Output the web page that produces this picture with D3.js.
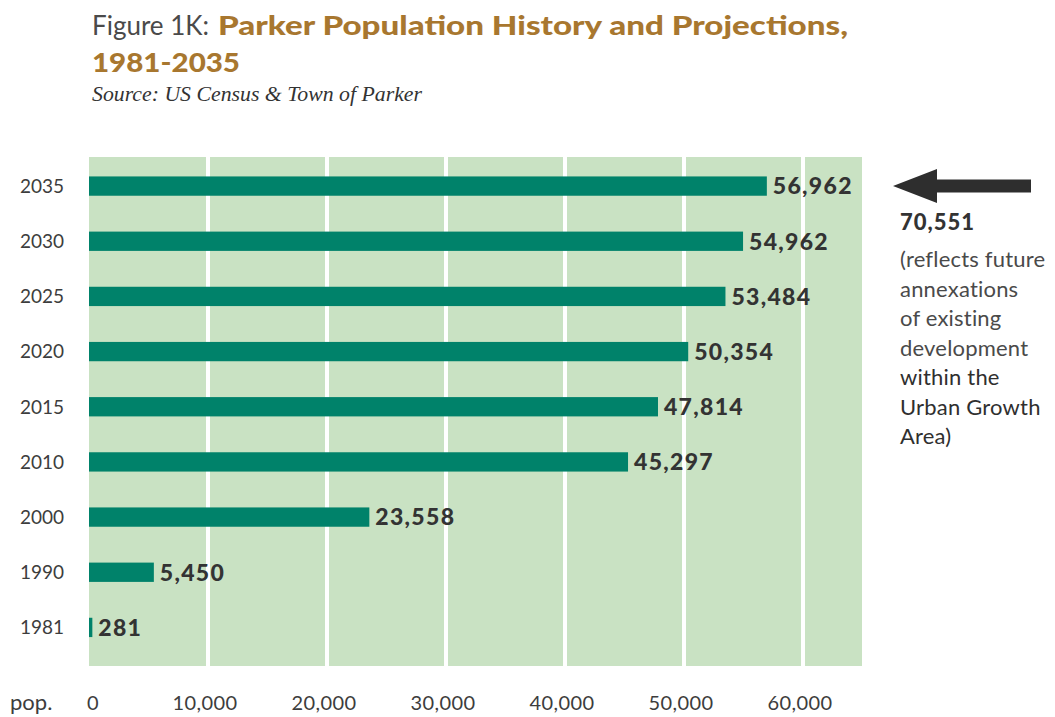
<!DOCTYPE html>
<html>
<head>
<meta charset="utf-8">
<script src="https://cdn.jsdelivr.net/npm/d3@7"></script>
<style>
  html, body { margin: 0; padding: 0; background: #fff; }
  svg { display: block; }
  .sans { font-family: "Lato", "Open Sans", sans-serif; }
</style>
</head>
<body>
<svg id="chart" width="1055" height="717"></svg>
<script>
// Population by year (historic census counts and projections)
const years = ["2035", "2030", "2025", "2020", "2015", "2010", "2000", "1990", "1981"];
const population = [56962, 54962, 53484, 50354, 47814, 45297, 23558, 5450, 281];
const tickValues = [0, 10000, 20000, 30000, 40000, 50000, 60000];
const noteValue = 70551;
const noteLines = ["(reflects future", "annexations", "of existing", "development", "within the", "Urban Growth", "Area)"];

const svg = d3.select("#chart");

const colors = {
  panel: "#c9e2c3",
  bar: "#00826a",
  grid: "#ffffff",
  text: "#3d3d3d",
  title: "#a8772f",
  arrow: "#2e2e2e"
};

const plot = { left: 89, right: 862, top: 157, bottom: 666 };

const x = d3.scaleLinear().domain([0, 65000]).range([plot.left, 862.5]);
const y = d3.scaleBand().domain(years).range([158.5, 655]).paddingInner(0.65).paddingOuter(0.325);

// Title block
svg.append("text").attr("class", "sans").attr("x", 92).attr("y", 35)
  .attr("font-size", 26).attr("fill", "#4a4a4a").text("Figure 1K:");
svg.append("text").attr("class", "sans").attr("x", 218).attr("y", 35)
  .attr("font-size", 26).attr("font-weight", 900).attr("fill", colors.title)
  .attr("textLength", 630).attr("lengthAdjust", "spacingAndGlyphs")
  .text("Parker Population History and Projections,");
svg.append("text").attr("class", "sans").attr("x", 92).attr("y", 72)
  .attr("font-size", 26).attr("font-weight", 900).attr("fill", colors.title)
  .attr("textLength", 148).attr("lengthAdjust", "spacingAndGlyphs").text("1981-2035");
svg.append("text").attr("x", 92).attr("y", 101)
  .attr("font-family", "'Liberation Serif', 'DejaVu Serif', serif").attr("font-style", "italic")
  .attr("font-size", 21).attr("fill", "#333")
  .attr("textLength", 330).attr("lengthAdjust", "spacingAndGlyphs")
  .text("Source: US Census & Town of Parker");

// Panel background
svg.append("rect")
  .attr("x", plot.left).attr("y", plot.top)
  .attr("width", plot.right - plot.left).attr("height", plot.bottom - plot.top)
  .attr("fill", colors.panel);

// Vertical white gridlines
svg.append("g").selectAll("line")
  .data(tickValues.filter(d => d > 0))
  .join("line")
  .attr("x1", d => x(d)).attr("x2", d => x(d))
  .attr("y1", plot.top).attr("y2", plot.bottom)
  .attr("stroke", colors.grid).attr("stroke-width", 4);

// Bars
svg.append("g").selectAll("rect")
  .data(years)
  .join("rect")
  .attr("x", x(0))
  .attr("y", d => y(d))
  .attr("width", (d, i) => x(population[i]) - x(0))
  .attr("height", y.bandwidth())
  .attr("fill", colors.bar);

// Value labels
svg.append("g").selectAll("text")
  .data(years)
  .join("text")
  .attr("class", "sans")
  .attr("x", (d, i) => x(population[i]) + 6)
  .attr("y", d => y(d) + y.bandwidth() / 2)
  .attr("dy", "0.36em")
  .attr("font-size", 23).attr("font-weight", 900).attr("letter-spacing", 1.3)
  .attr("fill", "#333")
  .text((d, i) => d3.format(",")(population[i]));

// Year labels
svg.append("g").selectAll("text")
  .data(years)
  .join("text")
  .attr("class", "sans")
  .attr("x", 64)
  .attr("y", d => y(d) + y.bandwidth() / 2)
  .attr("dy", "0.36em")
  .attr("text-anchor", "end")
  .attr("font-size", 19)
  .attr("fill", colors.text)
  .text(d => d);

// Bottom axis labels
svg.append("g").selectAll("text")
  .data(tickValues)
  .join("text")
  .attr("class", "sans")
  .attr("x", d => d === 0 ? x(d) + 4 : x(d) - 3)
  .attr("y", 710)
  .attr("text-anchor", "middle")
  .attr("font-size", 20).attr("letter-spacing", 0.4)
  .attr("fill", colors.text)
  .text(d => d3.format(",")(d));
svg.append("text").attr("class", "sans").attr("x", 10).attr("y", 710)
  .attr("font-size", 22).attr("fill", colors.text).text("pop.");

// Arrow pointing back to the 2035 bar
const ay = y("2035") + y.bandwidth() / 2;
const arrow = d3.path();
arrow.moveTo(893, ay);
arrow.lineTo(937, ay - 17);
arrow.lineTo(937, ay - 6.5);
arrow.lineTo(1031, ay - 6.5);
arrow.lineTo(1031, ay + 6.5);
arrow.lineTo(937, ay + 6.5);
arrow.lineTo(937, ay + 17);
arrow.closePath();
svg.append("path").attr("d", arrow.toString()).attr("fill", colors.arrow);

// Annotation for the Urban Growth Area total
svg.append("text").attr("class", "sans").attr("x", 900).attr("y", 230)
  .attr("font-size", 22).attr("font-weight", 900).attr("letter-spacing", 1)
  .attr("fill", "#333").text(d3.format(",")(noteValue));
svg.append("g").selectAll("text")
  .data(noteLines)
  .join("text")
  .attr("class", "sans")
  .attr("x", 900)
  .attr("y", (d, i) => 267 + i * 29.5)
  .attr("font-size", 22).attr("letter-spacing", 0.2)
  .attr("fill", (d, i) => i >= 4 ? "#2f2f2f" : "#4a4a4a")
  .text(d => d);
</script>
</body>
</html>
